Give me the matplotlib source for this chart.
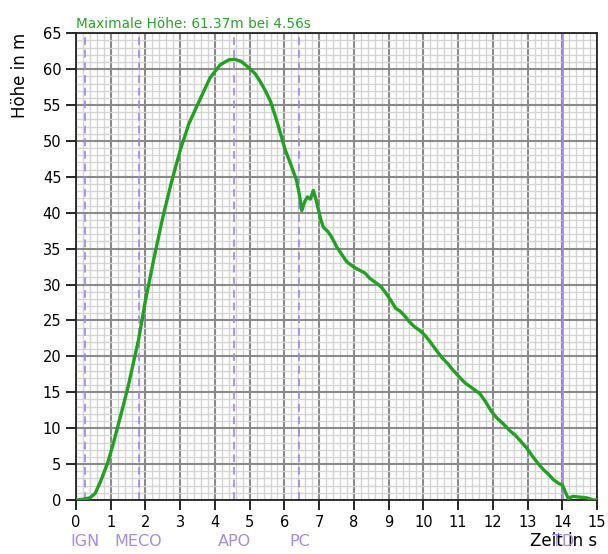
import matplotlib
matplotlib.use("Agg")
import matplotlib.pyplot as plt
from matplotlib.ticker import MultipleLocator
import matplotlib.transforms as mtransforms

# Flight data (time in s, height in m)
zeit = [0, 0.2, 0.4, 0.55, 0.7, 0.9, 1.07, 1.3, 1.5, 1.8, 2.0, 2.25, 2.5, 2.75, 3.0,
        3.25, 3.57, 3.86, 4.15, 4.4, 4.56, 4.75, 4.95, 5.15, 5.3, 5.45, 5.6, 5.8, 6.02,
        6.2, 6.35, 6.42, 6.5, 6.58, 6.66, 6.75, 6.83, 6.9, 6.97, 7.05, 7.12, 7.25, 7.36,
        7.5, 7.65, 7.79, 7.95, 8.08, 8.2, 8.32, 8.45, 8.56, 8.68, 8.8, 8.95, 9.09, 9.2,
        9.33, 9.47, 9.6, 9.75, 9.9, 10.05, 10.2, 10.35, 10.54, 10.7, 10.85, 11.06, 11.2,
        11.4, 11.63, 11.8, 11.95, 12.1, 12.3, 12.5, 12.65, 12.8, 12.98, 13.17, 13.3,
        13.46, 13.6, 13.75, 13.9, 14.0, 14.08, 14.17, 14.3, 14.5, 14.7, 14.9, 15.0]
hoehe = [0, 0.1, 0.3, 0.9, 2.5, 5.0, 7.8, 12.0, 15.8, 22.3, 27.8, 33.8, 39.4, 44.3, 48.7,
         52.4, 55.8, 58.8, 60.6, 61.3, 61.37, 61.1, 60.3, 59.4, 58.3, 57.0, 55.5, 52.5, 48.8,
         46.5, 44.5, 42.8, 40.3, 41.5, 42.2, 41.9, 43.1, 42.0, 40.6, 39.0, 38.0, 37.4, 36.6,
         35.3, 34.2, 33.2, 32.6, 32.2, 31.9, 31.6, 30.9, 30.5, 30.1, 29.6, 28.6, 27.6, 26.7,
         26.3, 25.6, 24.8, 24.1, 23.6, 22.9, 22.0, 21.0, 19.8, 19.0, 18.1, 17.0, 16.3,
         15.6, 14.8, 13.6, 12.4, 11.5, 10.6, 9.6, 9.0, 8.2, 7.2, 5.9, 5.1,
         4.2, 3.6, 2.8, 2.3, 2.1, 1.2, 0.2, 0.5, 0.4, 0.3, 0.0, 0.0]

# Flight events
ereignisse = ["IGN", "MECO", "APO", "PC", "TD"]
ereignis_zeit = [0.25, 1.8, 4.56, 6.43, 14.03]
ereignis_stil = ["dashed", "dashed", "dashed", "dashed", "solid"]

max_hoehe = 61.37
max_zeit = 4.56

x_ticks = list(range(0, 16))
y_ticks = list(range(0, 66, 5))

fig = plt.figure(figsize=(6.08, 5.54), dpi=100)
ax = fig.add_axes([0.125, 0.0975, 0.857, 0.8425])

ax.set_xlim(0, 15)
ax.set_ylim(0, 65)
ax.set_xticks(x_ticks)
ax.set_yticks(y_ticks)
ax.xaxis.set_minor_locator(MultipleLocator(0.2))
ax.yaxis.set_minor_locator(MultipleLocator(1))
ax.grid(which="major", color="#8a8a8a", linewidth=1.5, zorder=1)
ax.grid(which="minor", color="#d4d4d4", linewidth=1.0, zorder=0)
ax.set_axisbelow(True)
ax.tick_params(which="major", length=7, width=1.2, labelsize=10.5, direction="out")
ax.tick_params(which="minor", length=0)
for sp in ax.spines.values():
    sp.set_linewidth(1.3)
    sp.set_color("#222222")

trans = mtransforms.blended_transform_factory(ax.transData, ax.transAxes)
for name, tz, st in zip(ereignisse, ereignis_zeit, ereignis_stil):
    ax.axvline(tz, color="#a58be6", linestyle=st, linewidth=1.4, alpha=0.9, zorder=2,
               dashes=(4, 2.5) if st == "dashed" else (None, None))
    ax.text(tz, -0.088, name, transform=trans, ha="center", va="center",
            color="#a58be6", fontsize=11.5, clip_on=False, zorder=1)

ax.plot(zeit, hoehe, color="#22a022", linewidth=2.4, zorder=3)

ax.text(0.0, 1.004, f"Maximale Höhe: {max_hoehe}m bei {max_zeit}s",
        transform=ax.transAxes, ha="left", va="bottom", color="#2ca02c", fontsize=9.8)

ax.set_xlabel("Zeit in s", loc="right", fontsize=12, labelpad=2)
ax.set_ylabel("Höhe in m", loc="top", fontsize=12, labelpad=10)

fig.savefig("out.png", dpi=100)
